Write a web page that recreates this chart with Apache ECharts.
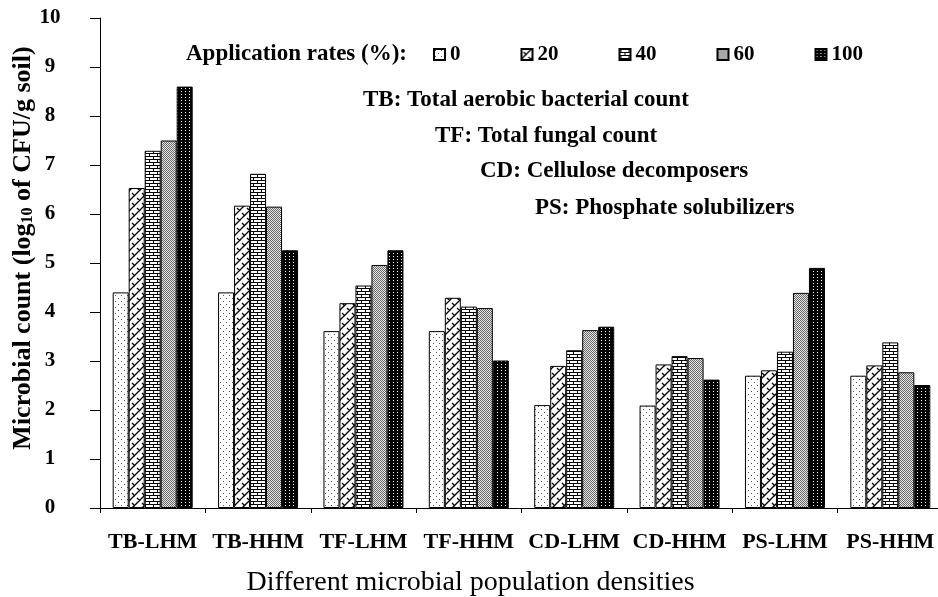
<!DOCTYPE html>
<html>
<head>
<meta charset="utf-8">
<script src="https://cdn.jsdelivr.net/npm/echarts@6/dist/echarts.min.js"></script>
<style>
html,body{margin:0;padding:0;background:#fff;}
#chart{width:938px;height:597px;}
</style>
</head>
<body>
<div id="chart"></div>
<script>
// ---- Data ----
const categories = ['TB-LHM', 'TB-HHM', 'TF-LHM', 'TF-HHM', 'CD-LHM', 'CD-HHM', 'PS-LHM', 'PS-HHM'];
const seriesNames = ['0', '20', '40', '60', '100'];
const rate0   = [4.40, 4.40, 3.61, 3.61, 2.10, 2.09, 2.70, 2.70];
const rate20  = [6.53, 6.17, 4.18, 4.29, 2.90, 2.93, 2.81, 2.91];
const rate40  = [7.29, 6.82, 4.54, 4.11, 3.22, 3.10, 3.19, 3.38];
const rate60  = [7.50, 6.15, 4.96, 4.08, 3.63, 3.06, 4.39, 2.77];
const rate100 = [8.60, 5.26, 5.26, 3.01, 3.70, 2.62, 4.90, 2.51];
const yTicks = [0, 10, 1]; // min, max, interval
const yTitle = 'Microbial count (log{sub|10} of CFU/g soil)';
const annotations = [
  'TB: Total aerobic bacterial count',
  'TF: Total fungal count',
  'CD: Cellulose decomposers',
  'PS: Phosphate solubilizers'
];

// ---- Patterns ----
function tile(w, h, draw) {
  const c = document.createElement('canvas');
  c.width = w; c.height = h;
  const ctx = c.getContext('2d');
  draw(ctx);
  return c;
}
function px(ctx, x, y, col) { ctx.fillStyle = col; ctx.fillRect(x, y, 1, 1); }

const pDots = tile(6, 6, ctx => {
  ctx.fillStyle = '#fff'; ctx.fillRect(0, 0, 6, 6);
  px(ctx, 1, 1, '#555'); px(ctx, 4, 4, '#555');
});
const pWeave = tile(10, 10, ctx => {
  ctx.fillStyle = '#fff'; ctx.fillRect(0, 0, 10, 10);
  ctx.strokeStyle = '#000'; ctx.lineWidth = 1.3;
  ctx.beginPath();
  ctx.moveTo(-2, 12); ctx.lineTo(12, -2);
  ctx.moveTo(-7, 7); ctx.lineTo(7, -7);
  ctx.moveTo(3, 17); ctx.lineTo(17, 3);
  ctx.stroke();
  ctx.beginPath();
  ctx.moveTo(2, 3); ctx.lineTo(5, 6);
  ctx.moveTo(7, 8); ctx.lineTo(10, 11);
  ctx.moveTo(-3, -2); ctx.lineTo(0, 1);
  ctx.stroke();
});
const pBrick = tile(8, 6, ctx => {
  ctx.fillStyle = '#fff'; ctx.fillRect(0, 0, 8, 6);
  ctx.fillStyle = '#000';
  ctx.fillRect(0, 0, 8, 1);
  ctx.fillRect(0, 3, 8, 1);
  ctx.fillRect(1, 1, 1, 2);
  ctx.fillRect(5, 4, 1, 2);
});
const pGray = tile(2, 2, ctx => {
  ctx.fillStyle = '#e8e8e8'; ctx.fillRect(0, 0, 2, 2);
  px(ctx, 0, 0, '#666'); px(ctx, 1, 1, '#666');
});
const pBlack = tile(4, 3, ctx => {
  ctx.fillStyle = '#000'; ctx.fillRect(0, 0, 4, 3);
  px(ctx, 1, 1, '#fff');
});
const patterns = [pDots, pWeave, pBrick, pGray, pBlack];
const values = [rate0, rate20, rate40, rate60, rate100];

const serif = 'Liberation Serif, Times New Roman, serif';

const chart = echarts.init(document.getElementById('chart'), null, { renderer: 'canvas' });

const series = seriesNames.map((n, i) => ({
  name: n,
  type: 'bar',
  data: values[i],
  barWidth: 16,
  barGap: '0%',
  itemStyle: {
    color: { image: patterns[i], repeat: 'repeat' },
    borderColor: '#000',
    borderWidth: 1
  },
  emphasis: { disabled: true },
  animation: false
}));

const annoPos = [[363, 101], [435, 137], [480, 172], [535, 209]];

const graphics = annotations.map((t, i) => ({
  type: 'text',
  left: annoPos[i][0],
  top: annoPos[i][1] - 12,
  style: { text: t, font: 'bold 23px ' + serif, fill: '#000' }
}));
graphics.push({
  type: 'text',
  x: 23, y: 248,
  rotation: Math.PI / 2,
  style: {
    text: yTitle,
    font: 'bold 26px ' + serif,
    fill: '#000',
    align: 'center',
    verticalAlign: 'middle',
    rich: {
      sub: { font: 'bold 16px ' + serif, fill: '#000', verticalAlign: 'bottom', padding: [10, 0, 0, 0] }
    }
  }
});

chart.setOption({
  animation: false,
  backgroundColor: '#fff',
  grid: { left: 100, right: -5, top: 18, bottom: 89, containLabel: false, outerBoundsMode: 'none' },
  title: {
    text: 'Application rates (%):',
    left: 186, top: 43, padding: 0,
    textStyle: { fontFamily: serif, fontWeight: 'bold', fontSize: 23, color: '#000' }
  },
  legend: {
    data: seriesNames,
    left: 433, top: 44, padding: 0,
    itemWidth: 11, itemHeight: 11,
    itemGap: 60,
    icon: 'rect',
    textStyle: { fontFamily: serif, fontWeight: 'bold', fontSize: 21, color: '#000' },
    selectedMode: false
  },
  xAxis: {
    type: 'category',
    data: categories,
    name: 'Different microbial population densities',
    nameLocation: 'middle',
    nameGap: 61,
    nameTextStyle: { fontFamily: serif, fontSize: 28, color: '#000', padding: [0, 102, 0, 0] },
    axisLine: { lineStyle: { color: '#000', width: 1 } },
    axisTick: { show: true, length: 5, inside: false, lineStyle: { color: '#000' } },
    axisLabel: { fontFamily: serif, fontWeight: 'bold', fontSize: 22, color: '#000', margin: 23, interval: 0 }
  },
  yAxis: {
    type: 'value',
    min: yTicks[0], max: yTicks[1], interval: yTicks[2],
    splitLine: { show: false },
    axisLine: { show: true, lineStyle: { color: '#000', width: 1 } },
    axisTick: { show: true, length: 10, inside: false, lineStyle: { color: '#000' } },
    axisLabel: { fontFamily: serif, fontWeight: 'bold', fontSize: 21, color: '#000', margin: 50 , align: 'center'}
  },
  graphic: graphics,
  series: series
});
</script>
</body>
</html>
